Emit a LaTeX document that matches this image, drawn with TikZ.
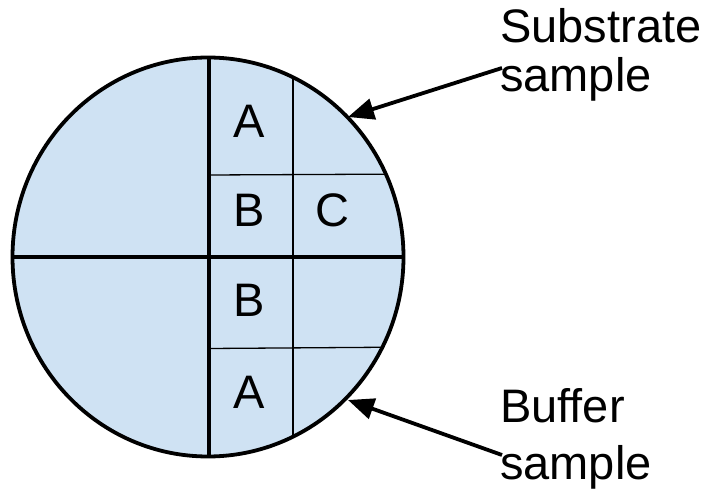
\documentclass[tikz,border=0pt]{standalone}
\usepackage{fontspec}
\setmainfont{Liberation Sans}
\usetikzlibrary{arrows.meta}
\definecolor{wafer}{HTML}{CFE2F3}
\begin{document}
\begin{tikzpicture}[x=1pt,y=1pt,
  thick line/.style={line width=3.8pt},
  thin line/.style={line width=1.3pt},
  lbl/.style={font=\fontsize{47}{56}\selectfont, inner sep=0pt},
  pointer/.style={line width=3.8pt, -{Triangle[length=26pt,width=21pt]}}]
\useasboundingbox (0,0) rectangle (711,490);
\fill[white] (0,0) rectangle (711,490);
\coordinate (c) at (208,233);
\fill[wafer] (c) ellipse [x radius=195.5, y radius=199.5];
\begin{scope}
  \clip (c) ellipse [x radius=195.5, y radius=199.5];
  \draw[thin line] (293,0) -- (293,490);
  \draw[thin line] (209,315) -- (420,316);
  \draw[thin line] (209,141.5) -- (420,143);
  \draw[thick line] (209,0) -- (209,490);
  \draw[thick line] (0,233) -- (420,233);
\end{scope}
\draw[thick line] (c) ellipse [x radius=195.5, y radius=199.5];
\node[lbl, anchor=base] (a1) at (249,352) {A};
\node[lbl, anchor=base] (b1) at (249,263) {B};
\node[lbl, anchor=base] (c1) at (332.5,263) {C};
\node[lbl, anchor=base] (b2) at (249,173) {B};
\node[lbl, anchor=base] (a2) at (249,82) {A};
\node[lbl, anchor=base west] (sub1) at (500,447) {Substrate};
\node[lbl, anchor=base west] (sub2) at (500,398) {sample};
\node[lbl, anchor=base west] (buf1) at (500,68) {Buffer};
\node[lbl, anchor=base west] (buf2) at (500,11) {sample};
\coordinate (s0) at (502,422);
\coordinate (s1) at (348,373);
\coordinate (b0) at (502,35);
\coordinate (bb) at (348,90);
\draw[pointer] (s0) -- (s1);
\draw[pointer] (b0) -- (bb);
\end{tikzpicture}
\end{document}
